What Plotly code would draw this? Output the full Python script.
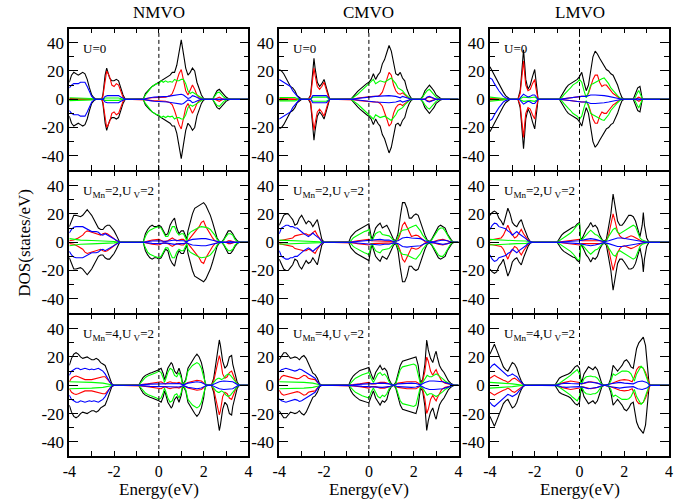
import plotly.graph_objects as go

# ---------------- data: (energy eV, DOS states/eV) spin-up; spin-down drawn mirrored ----------------
materials = ["NMVO", "CMVO", "LMVO"]
u_labels = ["U=0", "U<sub>Mn</sub>=2,U<sub> V</sub>=2", "U<sub>Mn</sub>=4,U<sub> V</sub>=2"]
energy_ticks = [-4, -2, 0, 2, 4]
energy_ticktext = ["-4", "-2", "0", "2", "4"]
energy_minor_ticks = [-3, -1, 1, 3]
dos_ticks = [-40, -20, 0, 20, 40]
dos_ticktext = ["-40", "-20", "0", "20", "40"]
dos_minor_ticks = [-30, -10, 10, 30]

nmvo_u0_black = [(-4,12),(-3.9,17),(-3.8,19),(-3.7,18),(-3.6,17),(-3.5,18),(-3.4,19),(-3.3,18),(-3.2,14),(-3.1,8),(-3.0,3),(-2.9,1),(-2.8,0),(-2.55,0),(-2.5,3),(-2.4,17),(-2.33,22),(-2.2,15),(-2.1,13),(-2.0,13),(-1.9,14),(-1.8,13),(-1.7,8),(-1.6,3),(-1.5,0),(-0.7,0),(-0.6,4),(-0.5,6),(-0.4,7.5),(-0.3,9),(-0.2,10),(-0.1,11),(0,12),(0.1,13),(0.2,14),(0.3,15),(0.4,16),(0.5,17),(0.6,19),(0.7,19),(0.8,24),(0.9,33),(1.0,42),(1.1,32),(1.2,22),(1.3,17),(1.4,19),(1.5,22),(1.6,20),(1.7,12),(1.8,7),(1.9,3),(2.0,0.5),(2.1,0),(2.4,0),(2.5,3),(2.6,6),(2.7,7),(2.8,5),(2.9,3),(3.0,1.5),(3.1,0.5),(3.2,0),(4,0)]
nmvo_u0_red = [(-4,0.5),(-3.2,0.5),(-3.0,0),(-2.55,0),(-2.5,2),(-2.4,14),(-2.33,20),(-2.2,16),(-2.1,10),(-2.0,9),(-1.9,11),(-1.8,10),(-1.7,5),(-1.6,1.5),(-1.5,0),(-0.7,0),(-0.6,0.5),(-0.3,1),(0,1.5),(0.3,1.5),(0.5,2.5),(0.6,4),(0.7,8),(0.8,13),(0.9,18),(1.0,21),(1.1,14),(1.2,6),(1.3,3),(1.4,6),(1.5,10),(1.6,7),(1.7,3),(1.8,1),(1.9,0.3),(2.0,0),(2.5,0),(2.6,1),(2.7,1.5),(2.8,0.5),(2.9,0),(4,0)]
nmvo_u0_green = [(-4,1),(-3.2,1),(-3.0,0.5),(-2.9,0),(-2.5,0),(-2.4,0.8),(-1.8,0.8),(-1.6,0),(-0.7,0),(-0.6,3),(-0.5,5),(-0.4,7),(-0.3,9),(-0.2,10),(-0.1,11),(0,11),(0.1,13),(0.2,12),(0.3,13),(0.4,12),(0.5,12.5),(0.6,12),(0.7,14),(0.8,13),(0.9,13),(1.0,14),(1.1,14),(1.2,11),(1.3,6),(1.4,4),(1.5,5),(1.6,4),(1.7,3),(1.8,2),(1.9,1),(2.0,0),(2.4,0),(2.5,2.5),(2.6,4.5),(2.7,5),(2.8,3),(2.9,1.5),(3.0,0.5),(3.1,0),(4,0)]
nmvo_u0_blue = [(-4,8),(-3.9,10),(-3.8,11),(-3.7,11),(-3.6,11),(-3.5,12),(-3.4,12),(-3.3,12),(-3.2,9),(-3.1,5),(-3.0,2),(-2.9,0.5),(-2.8,0),(-2.5,0),(-2.4,2),(-2.3,2.5),(-2.1,2.5),(-2.0,3),(-1.9,3),(-1.8,2.5),(-1.7,1.5),(-1.6,0.5),(-1.5,0),(-0.7,0),(-0.6,0.5),(-0.4,1),(-0.2,1.5),(0,1.5),(0.2,2),(0.4,2),(0.6,2.5),(0.8,3),(1.0,3.5),(1.1,3),(1.2,2),(1.3,0.5),(1.4,1),(1.5,2.5),(1.6,2),(1.7,1),(1.8,0.5),(1.9,0),(2.5,0),(2.7,0.3),(2.9,0),(4,0)]

cmvo_u0_black = [(-4,21),(-3.9,20),(-3.8,18),(-3.7,15),(-3.6,12),(-3.5,9),(-3.4,8),(-3.3,6),(-3.2,2.5),(-3.1,1),(-3.0,0),(-2.7,0),(-2.6,3),(-2.5,20),(-2.45,29),(-2.4,22),(-2.3,12),(-2.2,9),(-2.1,11),(-2.0,14),(-1.9,8),(-1.8,2),(-1.75,0),(-0.8,0),(-0.7,2),(-0.6,4),(-0.5,5.5),(-0.4,7),(-0.3,8.5),(-0.2,10),(-0.1,11),(0,12),(0.1,14),(0.2,18),(0.3,14),(0.4,17),(0.5,19),(0.6,25),(0.7,28),(0.8,33),(0.9,38),(1.0,34),(1.1,27),(1.2,18),(1.3,17),(1.4,19),(1.5,15),(1.6,13),(1.7,7),(1.8,3),(1.9,0.5),(2.0,0),(2.3,0),(2.4,2),(2.5,6),(2.6,8),(2.7,10),(2.8,8),(2.9,6),(3.0,3),(3.1,1.5),(3.2,0.5),(3.3,0),(4,0)]
cmvo_u0_red = [(-4,0.5),(-3.3,0.5),(-3.1,0),(-2.7,0),(-2.6,2),(-2.5,16),(-2.45,22),(-2.4,17),(-2.3,9),(-2.2,7),(-2.1,9),(-2.0,12),(-1.9,6),(-1.8,1.5),(-1.75,0),(-0.8,0),(-0.6,0.5),(-0.4,1),(-0.2,1.5),(0,1.5),(0.2,2),(0.4,2),(0.5,3),(0.6,5),(0.7,9),(0.8,14),(0.9,19),(1.0,17),(1.1,10),(1.2,6),(1.3,4),(1.4,3.5),(1.5,4.5),(1.6,3),(1.7,1.5),(1.8,0.5),(1.9,0),(2.5,0),(2.6,1),(2.7,1.5),(2.8,1),(2.9,0.5),(3.0,0),(4,0)]
cmvo_u0_green = [(-4,1.2),(-3.3,1.2),(-3.2,0.5),(-3.1,0),(-2.6,0),(-2.5,1.5),(-1.9,1.5),(-1.8,0.5),(-1.75,0),(-0.8,0),(-0.7,1),(-0.6,2),(-0.5,3.5),(-0.4,5),(-0.3,6.5),(-0.2,8),(-0.1,9),(0,11),(0.1,12),(0.2,14),(0.3,11),(0.4,12),(0.5,13),(0.6,12.5),(0.7,12),(0.8,13),(0.9,14),(1.0,15),(1.1,13),(1.2,11),(1.3,8),(1.4,7),(1.5,6),(1.6,4),(1.7,2.5),(1.8,1),(1.9,0.3),(2.0,0),(2.3,0),(2.4,1.5),(2.5,4),(2.6,6),(2.7,7),(2.8,5),(2.9,3),(3.0,1.5),(3.1,0.5),(3.2,0),(4,0)]
cmvo_u0_blue = [(-4,14),(-3.9,13),(-3.8,12),(-3.7,11),(-3.6,10.5),(-3.5,9),(-3.4,6),(-3.3,4),(-3.2,1.5),(-3.1,0.3),(-3.0,0),(-2.6,0),(-2.5,2.5),(-1.9,2.5),(-1.8,1),(-1.75,0),(-0.8,0),(-0.6,0.5),(-0.3,1),(0,1.5),(0.3,2),(0.6,2.5),(0.9,2.5),(1.2,2),(1.4,1),(1.5,2),(1.6,1.5),(1.7,1),(1.8,0.3),(1.9,0),(2.5,0),(2.6,1.5),(2.7,2),(2.8,1.5),(2.9,0.5),(3.0,0),(4,0)]

lmvo_u0_black = [(-4,23),(-3.9,20),(-3.8,16),(-3.7,13),(-3.6,10),(-3.5,7),(-3.4,5),(-3.3,2.5),(-3.2,1),(-3.1,0),(-2.75,0),(-2.65,6),(-2.6,15),(-2.55,30),(-2.5,35),(-2.45,25),(-2.4,14),(-2.3,7),(-2.2,10),(-2.1,16),(-2.0,21),(-1.95,14),(-1.9,5),(-1.85,0),(-0.9,0),(-0.8,3),(-0.7,5),(-0.6,8),(-0.5,10),(-0.4,11),(-0.3,12),(-0.2,13),(-0.1,14),(0,16),(0.1,19),(0.2,12),(0.3,6),(0.4,10),(0.5,20),(0.6,30),(0.7,34),(0.8,32),(0.9,29),(1.0,26),(1.1,23),(1.2,21),(1.3,20),(1.4,18),(1.5,17),(1.6,14),(1.7,10),(1.8,5),(1.9,1),(2.0,0),(2.4,0),(2.5,4),(2.6,8),(2.7,9),(2.75,4),(2.8,0.5),(2.85,0),(4,0)]
lmvo_u0_red = [(-4,0.5),(-3.4,0.5),(-3.3,0),(-2.75,0),(-2.65,4),(-2.6,12),(-2.55,22),(-2.5,27),(-2.45,18),(-2.4,10),(-2.3,6),(-2.2,7),(-2.1,11),(-2.0,14),(-1.95,8),(-1.9,3),(-1.85,0),(-0.9,0),(-0.7,0.5),(-0.4,1),(-0.1,1.5),(0.1,2),(0.3,2),(0.4,4),(0.5,9),(0.6,14),(0.7,17),(0.8,17),(0.9,12),(1.0,9),(1.1,10),(1.2,10),(1.3,8),(1.4,6),(1.5,4),(1.6,3),(1.7,1.5),(1.8,0.5),(1.9,0),(2.5,0),(2.6,1),(2.65,1.5),(2.75,0.5),(2.8,0),(4,0)]
lmvo_u0_green = [(-4,1.5),(-3.8,1.2),(-3.6,1),(-3.4,0.5),(-3.3,0),(-2.7,0),(-2.5,1.5),(-2.2,1),(-2.0,1.5),(-1.9,0.5),(-1.85,0),(-0.9,0),(-0.8,1),(-0.7,3),(-0.6,5),(-0.5,6.5),(-0.4,8),(-0.3,10),(-0.2,11),(-0.1,12),(0,14),(0.1,12),(0.2,6),(0.3,1),(0.4,5),(0.5,10),(0.6,11),(0.7,12),(0.8,13),(0.9,14),(1.0,14.5),(1.1,15),(1.2,13),(1.3,11),(1.4,8),(1.5,6),(1.6,4),(1.7,2.5),(1.8,1),(1.9,0),(2.45,0),(2.5,2),(2.6,5),(2.65,6),(2.7,4),(2.8,0.5),(2.85,0),(4,0)]
lmvo_u0_blue = [(-4,15),(-3.9,14),(-3.8,11),(-3.7,8),(-3.6,6),(-3.5,4),(-3.4,2),(-3.3,1),(-3.2,0.3),(-3.1,0),(-2.7,0),(-2.6,1.5),(-2.5,3.5),(-2.4,2.5),(-2.3,1.5),(-2.2,2),(-2.1,3),(-2.0,3),(-1.9,1),(-1.85,0),(-0.9,0),(-0.7,0.5),(-0.4,1),(-0.1,1.5),(0.1,2),(0.3,2),(0.5,3),(0.7,3),(0.9,3),(1.1,2.5),(1.3,2),(1.5,1.5),(1.7,1),(1.8,0.5),(1.9,0),(2.5,0),(2.6,0.5),(2.7,0),(4,0)]

nmvo_u2_black = [(-4,11),(-3.9,15),(-3.8,19),(-3.7,19),(-3.6,18.5),(-3.5,18),(-3.4,19),(-3.3,21),(-3.2,23),(-3.1,21),(-3.0,19),(-2.9,16),(-2.8,13),(-2.7,10),(-2.6,9),(-2.5,9),(-2.4,11),(-2.3,12),(-2.2,12),(-2.1,10),(-2.0,8),(-1.9,5),(-1.8,1.5),(-1.75,0),(-0.7,0),(-0.6,6),(-0.5,9),(-0.4,11),(-0.3,12),(-0.2,11),(-0.1,11),(0,12),(0.1,11),(0.2,8),(0.3,5),(0.4,6),(0.5,12),(0.6,15),(0.7,17),(0.8,10),(0.9,6),(1.0,8),(1.1,8),(1.2,4),(1.25,2),(1.3,8),(1.4,15),(1.5,20),(1.6,24),(1.7,25),(1.8,26),(1.9,27),(2.0,28),(2.1,26),(2.2,23),(2.3,19),(2.4,14),(2.5,8),(2.6,3),(2.7,0.5),(2.8,0),(2.9,2),(3.0,5),(3.1,8),(3.2,8),(3.3,6),(3.4,3),(3.5,1),(3.6,0),(4,0)]
nmvo_u2_red = [(-4,1),(-3.8,1.5),(-3.6,3),(-3.4,5),(-3.3,7),(-3.2,8),(-3.1,7.5),(-3.0,7),(-2.9,6),(-2.8,5.5),(-2.7,5),(-2.6,5),(-2.5,6),(-2.4,6.5),(-2.3,6),(-2.2,5),(-2.1,4),(-2.0,2.5),(-1.9,1),(-1.8,0.3),(-1.75,0),(-0.7,0),(-0.6,0.5),(-0.5,1),(-0.3,1.5),(0,2),(0.1,1.5),(0.2,0.5),(0.4,1),(0.5,2),(0.6,3),(0.7,2),(0.8,1),(1.0,2),(1.1,2),(1.2,0.5),(1.3,1),(1.4,3),(1.5,5),(1.6,7),(1.7,9),(1.8,11),(1.9,14),(2.0,15),(2.1,11),(2.2,8),(2.3,5),(2.4,3),(2.5,1),(2.6,0.3),(2.7,0),(3.0,0),(3.1,1),(3.2,1),(3.3,0.5),(3.4,0),(4,0)]
nmvo_u2_green = [(-4,2.5),(-3.8,2),(-3.5,1.5),(-3.0,1.2),(-2.5,1),(-2.0,0.5),(-1.8,0),(-0.7,0),(-0.6,4),(-0.5,7),(-0.4,8.5),(-0.3,9.5),(-0.2,10),(-0.1,10.5),(0,11),(0.1,10),(0.2,7),(0.3,4),(0.4,4),(0.5,8),(0.6,11),(0.7,11),(0.8,7),(0.9,5),(1.0,6),(1.1,6),(1.2,3),(1.25,1),(1.3,5),(1.4,7),(1.5,8),(1.6,9),(1.7,10),(1.8,10.5),(1.9,11),(2.0,11),(2.1,10.5),(2.2,10),(2.3,9),(2.4,7),(2.5,5),(2.6,2),(2.7,0.5),(2.8,0),(2.9,1.5),(3.0,4),(3.1,6),(3.2,6),(3.3,5),(3.4,2),(3.5,0.5),(3.6,0),(4,0)]
nmvo_u2_blue = [(-4,6.5),(-3.9,9),(-3.8,10.5),(-3.7,11),(-3.4,11),(-3.3,10),(-3.2,9),(-3.1,8),(-3.0,7.5),(-2.8,7.5),(-2.7,7),(-2.6,5.5),(-2.5,5),(-2.4,6),(-2.3,5),(-2.2,4),(-2.1,3),(-2.0,2),(-1.9,1),(-1.8,0.3),(-1.75,0),(-0.7,0),(-0.6,0.3),(-0.3,0.8),(0,1),(0.3,0.5),(0.5,1),(0.7,1.5),(0.9,1),(1.1,1),(1.25,0.3),(1.3,1),(1.5,2),(1.7,2.5),(1.9,2.5),(2.1,2.5),(2.3,2),(2.5,1),(2.7,0.2),(2.8,0),(3.0,0),(3.2,0.5),(3.4,0),(4,0)]

cmvo_u2_black = [(-4,12),(-3.9,15),(-3.8,19),(-3.7,20),(-3.6,20),(-3.5,18),(-3.4,16),(-3.3,12),(-3.2,13),(-3.1,17),(-3.0,19),(-2.9,16),(-2.8,13),(-2.7,15),(-2.6,14),(-2.5,11),(-2.4,14),(-2.3,16),(-2.2,9),(-2.1,2),(-2.0,0),(-0.9,0),(-0.8,4),(-0.7,6),(-0.6,7.5),(-0.5,8.5),(-0.4,9.5),(-0.3,10),(-0.2,11),(-0.1,12),(0,13),(0.1,4),(0.15,2),(0.2,5),(0.3,10),(0.4,12),(0.5,13.5),(0.6,10),(0.7,11),(0.8,12),(0.9,9),(1.0,6),(1.1,2),(1.2,1),(1.3,6),(1.4,18),(1.5,28),(1.6,28),(1.7,24),(1.8,17),(1.9,17),(2.0,19),(2.1,20),(2.2,19),(2.3,14),(2.4,9),(2.5,5),(2.6,1.5),(2.7,0.5),(2.8,2),(2.9,5),(3.0,9),(3.1,11),(3.2,12),(3.3,11),(3.4,10),(3.5,6),(3.6,3),(3.7,1),(3.8,0),(4,0)]
cmvo_u2_red = [(-4,1),(-3.8,1.5),(-3.6,2),(-3.4,3),(-3.3,4.5),(-3.2,5),(-3.1,5),(-3.0,5.5),(-2.9,6),(-2.8,6),(-2.7,5),(-2.6,5.5),(-2.5,7),(-2.4,8),(-2.3,5),(-2.2,3),(-2.1,0.5),(-2.0,0),(-0.9,0),(-0.7,0.5),(-0.5,1),(-0.3,1.5),(-0.1,2),(0,2),(0.1,1),(0.3,1),(0.5,1),(0.7,1),(0.9,1),(1.1,0.5),(1.2,0.3),(1.3,2),(1.4,6),(1.5,12),(1.6,14),(1.7,11),(1.8,7),(1.9,4),(2.0,4.5),(2.1,5),(2.2,4.5),(2.3,3),(2.4,1.5),(2.5,0.5),(2.6,0),(2.8,0),(2.9,0.5),(3.1,1.5),(3.3,2),(3.5,1),(3.7,0),(4,0)]
cmvo_u2_green = [(-4,1.5),(-3.6,1.2),(-3.2,1),(-2.8,0.8),(-2.4,0.8),(-2.2,0.3),(-2.1,0),(-0.9,0),(-0.8,1),(-0.7,3),(-0.6,4),(-0.5,5),(-0.4,6),(-0.3,7),(-0.2,7.5),(-0.1,8),(0,9),(0.1,2),(0.15,1),(0.2,3),(0.3,6),(0.4,7),(0.5,7.5),(0.6,5.5),(0.7,5),(0.8,5),(0.9,4.5),(1.0,3),(1.1,1),(1.2,0.5),(1.3,4),(1.4,7),(1.5,8.5),(1.6,8.5),(1.7,9),(1.8,10),(1.9,11),(2.0,11.5),(2.1,12),(2.2,10),(2.3,8),(2.4,5),(2.5,3),(2.6,1),(2.7,0.3),(2.8,1.5),(2.9,4),(3.0,7),(3.1,9),(3.2,10),(3.3,10),(3.4,8),(3.5,5),(3.6,2.5),(3.7,0.5),(3.8,0),(4,0)]
cmvo_u2_blue = [(-4,6),(-3.9,10),(-3.8,11),(-3.7,12),(-3.6,12),(-3.5,11),(-3.4,11),(-3.3,10),(-3.2,10),(-3.1,8.5),(-3.0,7.5),(-2.9,6),(-2.8,5),(-2.7,4),(-2.6,5),(-2.5,6.5),(-2.4,5),(-2.3,4),(-2.2,2.5),(-2.1,0.5),(-2.0,0),(-0.9,0),(-0.7,0.3),(-0.3,0.8),(0,1),(0.3,1.5),(0.5,2),(0.7,1.5),(0.9,1.5),(1.1,0.5),(1.3,1),(1.5,3),(1.7,3.5),(1.9,3),(2.1,3),(2.3,2.5),(2.5,1),(2.7,0.2),(2.9,0.3),(3.1,1),(3.3,1.5),(3.5,1),(3.7,0),(4,0)]

lmvo_u2_black = [(-4,19),(-3.9,21),(-3.8,22),(-3.7,21),(-3.6,17),(-3.5,15),(-3.4,12),(-3.3,18),(-3.2,24),(-3.1,20),(-3.0,14),(-2.9,12),(-2.8,11),(-2.7,14),(-2.6,16),(-2.5,11),(-2.4,7),(-2.3,3),(-2.2,0.5),(-2.1,0),(-1.0,0),(-0.9,3),(-0.8,5),(-0.7,6.5),(-0.6,7.5),(-0.5,8.5),(-0.4,10),(-0.3,10.5),(-0.2,11),(-0.1,13),(0,14),(0.05,3),(0.1,2),(0.2,6),(0.3,9),(0.4,11),(0.5,14),(0.6,11),(0.7,12),(0.8,10),(0.9,5),(1.0,2),(1.1,0.5),(1.2,2),(1.3,10),(1.4,20),(1.5,34),(1.6,25),(1.7,15),(1.8,12),(1.9,12),(2.0,14),(2.1,17),(2.2,19),(2.3,19),(2.4,18),(2.5,15),(2.6,10),(2.7,4),(2.8,12),(2.85,21),(2.9,12),(3.0,3),(3.1,0),(4,0)]
lmvo_u2_red = [(-4,1.5),(-3.8,2),(-3.6,2.5),(-3.5,3),(-3.4,5),(-3.3,9),(-3.2,12),(-3.1,8),(-3.0,5),(-2.9,3),(-2.8,4),(-2.7,7),(-2.6,9),(-2.5,6),(-2.4,3.5),(-2.3,1.5),(-2.2,0.3),(-2.1,0),(-1.0,0),(-0.8,0.5),(-0.6,1),(-0.4,1.5),(-0.2,2),(0,2),(0.1,1),(0.3,1),(0.5,1.5),(0.7,1.5),(0.9,1),(1.1,0.3),(1.2,1),(1.3,5),(1.4,13),(1.5,20),(1.6,14),(1.7,7.5),(1.8,4.5),(1.9,3),(2.0,2.5),(2.1,3),(2.2,4),(2.3,4.5),(2.4,4),(2.5,3),(2.6,2),(2.7,1),(2.8,0.5),(2.9,0.3),(3.0,0),(4,0)]
lmvo_u2_green = [(-4,2),(-3.6,1.5),(-3.2,1.2),(-2.8,1),(-2.4,0.8),(-2.2,0.3),(-2.1,0),(-1.0,0),(-0.9,1),(-0.8,2),(-0.7,3),(-0.6,4),(-0.5,5),(-0.4,6.5),(-0.3,8),(-0.2,10),(-0.1,12),(0,13),(0.05,2),(0.1,1.5),(0.2,3.5),(0.3,5),(0.4,7),(0.5,8.5),(0.6,7),(0.7,5.5),(0.8,5),(0.9,3),(1.0,1.5),(1.1,0.3),(1.2,1),(1.3,4),(1.4,7),(1.5,9),(1.6,10),(1.7,7),(1.8,6),(1.9,7),(2.0,8),(2.1,9),(2.2,10),(2.3,11),(2.4,12),(2.5,11),(2.6,7),(2.7,3),(2.8,1.5),(2.9,1),(3.0,0.3),(3.1,0),(4,0)]
lmvo_u2_blue = [(-4,9),(-3.9,12),(-3.8,13.5),(-3.7,13),(-3.6,11),(-3.5,10.5),(-3.4,10),(-3.3,9.5),(-3.2,8),(-3.1,7),(-3.0,5),(-2.9,6.5),(-2.8,7.5),(-2.7,6),(-2.6,5),(-2.5,4),(-2.4,2.5),(-2.3,1),(-2.2,0.3),(-2.1,0),(-1.0,0),(-0.8,0.3),(-0.4,0.8),(0,1),(0.3,2),(0.5,2.5),(0.7,2),(0.9,1),(1.1,0.3),(1.3,1),(1.5,2),(1.7,3),(1.9,3),(2.1,2.5),(2.3,2),(2.5,1.5),(2.7,1),(2.9,0.5),(3.0,0),(4,0)]

nmvo_u4_black = [(-4,14),(-3.9,19),(-3.8,22),(-3.7,23),(-3.6,22),(-3.5,20),(-3.4,19),(-3.3,19.5),(-3.2,20),(-3.1,19),(-3.0,18),(-2.9,18),(-2.8,19),(-2.7,18),(-2.6,16),(-2.5,15),(-2.4,14),(-2.3,10),(-2.2,5),(-2.1,1),(-2.0,0),(-0.9,0),(-0.8,3),(-0.7,5.5),(-0.6,7),(-0.5,8),(-0.4,8.5),(-0.3,9),(-0.2,9.5),(-0.1,10),(0,11),(0.1,12),(0.2,8),(0.25,4),(0.3,6),(0.4,12),(0.5,15),(0.55,16),(0.6,15),(0.7,10),(0.8,8),(0.9,12),(1.0,7),(1.05,2),(1.1,1),(1.2,4),(1.3,12),(1.4,15),(1.5,17),(1.6,20),(1.7,22),(1.8,20),(1.9,16),(2.0,9),(2.05,3),(2.1,0.5),(2.2,0),(2.35,0),(2.45,5),(2.55,15),(2.65,28),(2.7,32),(2.75,28),(2.85,17),(2.95,12),(3.05,14),(3.15,20),(3.25,21),(3.3,15),(3.4,8),(3.5,2),(3.6,0),(4,0)]
nmvo_u4_red = [(-4,2.5),(-3.9,5),(-3.8,6),(-3.7,6.5),(-3.6,6),(-3.5,5.5),(-3.4,5),(-3.3,4),(-3.0,4),(-2.9,4.5),(-2.8,4.5),(-2.7,5),(-2.6,5.5),(-2.5,6),(-2.4,6),(-2.3,4),(-2.2,2),(-2.1,0.5),(-2.0,0),(-0.9,0),(-0.8,0.5),(-0.5,1),(-0.2,1.5),(0,2),(0.1,2.5),(0.2,1.5),(0.3,1),(0.4,2),(0.5,2.5),(0.6,2),(0.8,1.5),(0.9,2),(1.0,1),(1.1,0.3),(1.3,2),(1.5,3),(1.7,3.5),(1.9,3),(2.0,1.5),(2.1,0.3),(2.2,0),(2.35,0),(2.45,3),(2.55,10),(2.65,19),(2.7,21),(2.75,18),(2.85,8),(2.95,5),(3.05,6),(3.15,9),(3.25,10),(3.35,6),(3.45,2),(3.55,0),(4,0)]
nmvo_u4_green = [(-4,2.5),(-3.8,2.5),(-3.5,2),(-3.0,2),(-2.5,1.5),(-2.3,1),(-2.1,0.3),(-2.0,0),(-0.9,0),(-0.8,2),(-0.7,4),(-0.6,5.5),(-0.5,6.5),(-0.4,7),(-0.3,7.5),(-0.2,8),(-0.1,9),(0,10),(0.1,9),(0.2,5),(0.25,2),(0.3,4),(0.4,9),(0.5,12),(0.6,11),(0.7,7),(0.8,6),(0.9,9),(1.0,5),(1.05,1),(1.1,0.5),(1.2,3),(1.3,10),(1.4,12),(1.5,14),(1.6,15),(1.7,16),(1.8,15),(1.9,12),(2.0,6),(2.05,2),(2.1,0.3),(2.2,0),(2.35,0),(2.45,2),(2.55,4),(2.65,5),(2.7,5),(2.8,4),(2.9,5),(3.0,7),(3.1,8),(3.2,7),(3.3,5),(3.4,3),(3.5,1),(3.6,0),(4,0)]
nmvo_u4_blue = [(-4,7),(-3.9,10),(-3.8,11),(-3.7,12),(-3.6,12),(-3.5,11),(-3.4,11.5),(-3.3,12),(-3.2,11.5),(-3.1,11),(-3.0,11.5),(-2.9,11),(-2.8,11.5),(-2.7,12),(-2.6,11),(-2.5,10),(-2.4,8),(-2.3,5),(-2.2,2.5),(-2.1,0.5),(-2.0,0),(-0.9,0),(-0.8,0.3),(-0.4,0.8),(0,1),(0.3,1),(0.5,1.5),(0.7,1.5),(0.9,1.2),(1.1,0.3),(1.3,1.5),(1.5,2),(1.7,2.5),(1.9,2),(2.1,0.3),(2.35,0),(2.5,1),(2.7,2.5),(2.9,3),(3.1,3),(3.3,2.5),(3.5,0.5),(3.6,0),(4,0)]

cmvo_u4_black = [(-4,18),(-3.9,21),(-3.8,23),(-3.7,23),(-3.6,21),(-3.5,19),(-3.4,19.5),(-3.3,20),(-3.2,19.5),(-3.1,18),(-3.0,20),(-2.9,21),(-2.8,19),(-2.7,15),(-2.6,12),(-2.5,8.5),(-2.4,7.5),(-2.3,5),(-2.2,1),(-2.1,0),(-0.9,0),(-0.8,4),(-0.7,6.5),(-0.6,8),(-0.5,9.5),(-0.4,10.5),(-0.3,11),(-0.2,11.5),(-0.1,12),(0,12.5),(0.1,8),(0.2,4),(0.3,9),(0.4,12),(0.5,14),(0.6,11),(0.7,12),(0.8,10),(0.9,4),(1.0,1),(1.1,0),(1.2,2),(1.3,8),(1.4,14),(1.5,17),(1.6,17.5),(1.7,18),(1.8,19),(1.9,19.5),(2.0,20),(2.1,20),(2.2,14),(2.25,5),(2.3,2),(2.4,4),(2.5,15),(2.58,32),(2.65,25),(2.75,19),(2.85,16),(2.95,22),(3.0,24),(3.05,20),(3.15,14),(3.25,11),(3.35,9),(3.45,6),(3.55,3),(3.65,1.5),(3.8,0),(4,0)]
cmvo_u4_red = [(-4,3.5),(-3.9,6),(-3.8,7),(-3.7,6.5),(-3.6,6),(-3.5,5.5),(-3.4,5),(-3.3,4.5),(-3.2,4.5),(-3.1,5),(-3.0,6),(-2.9,7),(-2.8,6.5),(-2.7,5),(-2.6,4.5),(-2.5,4.5),(-2.4,4),(-2.3,2),(-2.2,0.5),(-2.1,0),(-0.9,0),(-0.7,0.5),(-0.4,1),(-0.1,1.5),(0,2),(0.1,1),(0.3,1),(0.5,2),(0.7,2),(0.9,1),(1.1,0),(1.3,1.5),(1.5,2),(1.7,2.5),(2.1,2.5),(2.2,1.5),(2.3,0.5),(2.4,3),(2.5,10),(2.58,20),(2.65,17),(2.75,10),(2.85,7),(2.95,10),(3.0,11),(3.05,9),(3.15,6),(3.25,3),(3.4,1.5),(3.6,0.5),(3.8,0),(4,0)]
cmvo_u4_green = [(-4,2.5),(-3.7,2.5),(-3.3,2),(-2.9,2),(-2.5,1.5),(-2.3,1),(-2.2,0.3),(-2.1,0),(-0.9,0),(-0.8,2),(-0.7,3.5),(-0.6,5),(-0.5,6),(-0.4,7),(-0.3,7.5),(-0.2,8),(-0.1,8.5),(0,9),(0.1,5),(0.2,2),(0.3,5),(0.4,8),(0.5,9),(0.6,7),(0.7,8),(0.8,6),(0.9,2.5),(1.0,0.5),(1.1,0),(1.2,1),(1.3,6),(1.4,11),(1.5,13),(1.6,13.5),(1.7,14),(1.8,14),(1.9,15),(2.0,15),(2.1,14),(2.2,8),(2.25,3),(2.3,1),(2.4,2),(2.5,5),(2.6,7),(2.7,6),(2.8,6),(2.9,7),(3.0,8),(3.1,7),(3.2,6),(3.3,4.5),(3.4,3),(3.5,2),(3.6,1),(3.8,0),(4,0)]
cmvo_u4_blue = [(-4,9.5),(-3.9,11),(-3.8,11.5),(-3.7,12),(-3.6,11.5),(-3.5,11),(-3.4,10.5),(-3.3,10),(-3.2,10.5),(-3.1,11.5),(-3.0,11),(-2.9,10),(-2.8,9.5),(-2.7,8.5),(-2.6,7.5),(-2.5,6.5),(-2.4,5),(-2.3,2.5),(-2.2,0.5),(-2.1,0),(-0.9,0),(-0.7,0.3),(-0.3,0.8),(0,1),(0.3,1.2),(0.6,1.5),(0.9,1),(1.1,0),(1.3,1),(1.6,1.5),(1.9,1.5),(2.1,1.2),(2.3,0.3),(2.5,2),(2.7,3),(2.9,3),(3.1,3),(3.3,2.5),(3.5,1.5),(3.7,0.5),(3.8,0),(4,0)]

lmvo_u4_black = [(-4,22),(-3.9,26),(-3.8,29),(-3.7,25),(-3.6,21),(-3.5,17),(-3.4,13),(-3.3,11),(-3.2,10),(-3.1,13),(-3.0,16),(-2.9,15),(-2.8,12),(-2.7,7),(-2.6,3),(-2.5,0.5),(-2.4,0),(-1.1,0),(-1.0,3),(-0.9,5),(-0.8,6),(-0.7,6.5),(-0.6,7),(-0.5,8),(-0.4,9),(-0.3,11),(-0.2,13),(-0.1,14),(0,12),(0.05,5),(0.1,2),(0.2,8),(0.3,11),(0.4,13),(0.5,12),(0.6,11),(0.7,13),(0.8,11),(0.9,6),(1.0,1),(1.1,0),(1.3,0.5),(1.4,5),(1.5,14),(1.6,12),(1.7,10),(1.8,12),(1.9,14),(2.0,17),(2.1,18),(2.2,16),(2.3,13),(2.4,12),(2.45,16),(2.55,26),(2.65,30),(2.75,32),(2.85,34),(2.95,28),(3.0,20),(3.05,10),(3.1,2),(3.15,0),(4,0)]
lmvo_u4_red = [(-4,5),(-3.9,6),(-3.8,7),(-3.7,6),(-3.6,5),(-3.5,4),(-3.4,3.5),(-3.3,3),(-3.2,2),(-3.1,3),(-3.0,4.5),(-2.9,5),(-2.8,4),(-2.7,3),(-2.6,1.5),(-2.5,0.3),(-2.4,0),(-1.1,0),(-1.0,0.3),(-0.8,1.5),(-0.6,2.5),(-0.4,3),(-0.2,2.5),(0,2),(0.1,1),(0.3,2),(0.5,2.5),(0.7,2),(0.9,1),(1.0,0.3),(1.1,0),(1.4,1),(1.6,2.5),(1.8,3.5),(2.0,4),(2.2,3.5),(2.35,2.5),(2.45,6),(2.55,11),(2.65,13),(2.75,13),(2.85,12),(2.95,9),(3.05,4),(3.1,1),(3.15,0),(4,0)]
lmvo_u4_green = [(-4,2),(-3.8,2),(-3.5,1.5),(-3.0,1),(-2.7,0.5),(-2.5,0),(-1.1,0),(-1.0,0.5),(-0.9,1.5),(-0.8,2.5),(-0.7,3.5),(-0.6,4.5),(-0.5,5.5),(-0.4,7),(-0.3,8.5),(-0.2,10),(-0.1,11),(0,8),(0.05,2),(0.1,1),(0.2,4.5),(0.3,6),(0.4,6.5),(0.5,6.5),(0.6,6),(0.7,6),(0.8,5),(0.9,3),(1.0,0.5),(1.1,0),(1.3,0.3),(1.4,3),(1.5,8),(1.6,7),(1.7,8),(1.8,9.5),(1.9,10),(2.1,10),(2.2,9.5),(2.3,8),(2.4,4),(2.45,3),(2.55,8),(2.65,11),(2.75,13.5),(2.85,12),(2.95,8),(3.05,3),(3.1,0.5),(3.15,0),(4,0)]
lmvo_u4_blue = [(-4,12),(-3.9,14),(-3.8,15),(-3.7,13.5),(-3.6,12),(-3.5,10.5),(-3.4,9),(-3.3,8),(-3.2,6.5),(-3.1,7),(-3.0,8),(-2.9,7),(-2.8,6),(-2.7,4),(-2.6,2),(-2.5,0.5),(-2.4,0),(-1.1,0),(-1.0,0.3),(-0.8,1),(-0.6,1.5),(-0.4,1.2),(-0.2,1),(0,1),(0.2,1.5),(0.4,2.5),(0.6,2),(0.8,1.5),(1.0,0.3),(1.1,0),(1.4,1),(1.6,1.5),(1.8,2),(2.0,1.5),(2.2,1.5),(2.4,1),(2.6,2.5),(2.8,3),(3.0,2),(3.1,0.5),(3.15,0),(4,0)]

panels = [
    [nmvo_u0_black, nmvo_u0_red, nmvo_u0_green, nmvo_u0_blue],
    [cmvo_u0_black, cmvo_u0_red, cmvo_u0_green, cmvo_u0_blue],
    [lmvo_u0_black, lmvo_u0_red, lmvo_u0_green, lmvo_u0_blue],
    [nmvo_u2_black, nmvo_u2_red, nmvo_u2_green, nmvo_u2_blue],
    [cmvo_u2_black, cmvo_u2_red, cmvo_u2_green, cmvo_u2_blue],
    [lmvo_u2_black, lmvo_u2_red, lmvo_u2_green, lmvo_u2_blue],
    [nmvo_u4_black, nmvo_u4_red, nmvo_u4_green, nmvo_u4_blue],
    [cmvo_u4_black, cmvo_u4_red, cmvo_u4_green, cmvo_u4_blue],
    [lmvo_u4_black, lmvo_u4_red, lmvo_u4_green, lmvo_u4_blue],
]
curve_colors = ["#000000", "#ff0000", "#00ff00", "#0000ff"]

# ---------------- layout geometry (page pixels) ----------------
W, H = 696, 499
LW = 1.6                      # frame line width
col_px = [(63.3, 245.3), (276.6, 458.8), (490.7, 672.7)]
row_px = [(28.5, 170.7 - LW / 2), (170.7 + LW / 2, 313.7 - LW / 2), (313.7 + LW / 2, 456.0)]
FONT = "Liberation Serif, Times New Roman, serif"


def fx(px):
    return px / W


def fy(py):
    return 1 - py / H


fig = go.Figure()
layout = dict(
    width=W, height=H, margin=dict(l=0, r=0, t=0, b=0, pad=0),
    paper_bgcolor="white", plot_bgcolor="white", showlegend=False,
    font=dict(family=FONT, size=16, color="black"),
)
shapes, annotations = [], []

for k, curves in enumerate(panels):
    r, c = divmod(k, 3)
    xs = "" if k == 0 else str(k + 1)
    xa, ya = "x" + xs, "y" + xs
    for pts, col in zip(curves, curve_colors):
        ex = [p[0] for p in pts]
        up = [p[1] for p in pts]
        dn = [-p[1] for p in pts]
        for yy in (up, dn):
            fig.add_trace(go.Scatter(x=ex, y=yy, mode="lines", xaxis=xa, yaxis=ya,
                                     line=dict(color=col, width=1.1), hoverinfo="skip"))
    x0, x1 = col_px[c]
    y0, y1 = row_px[r]
    layout["xaxis" + xs] = dict(
        domain=[fx(x0), fx(x1)], anchor=ya, range=[-4, 4],
        tickmode="array", tickvals=energy_ticks, ticktext=energy_ticktext,
        minor=dict(tickvals=energy_minor_ticks, ticks="inside", ticklen=5, tickwidth=1.2, tickcolor="black"),
        showticklabels=(r == 2), ticks="inside", ticklen=5, tickwidth=1.2, tickcolor="black",
        showline=True, linecolor="black", linewidth=LW, mirror="ticks",
        showgrid=False, zeroline=False, tickfont=dict(family=FONT, size=16),
    )
    layout["yaxis" + xs] = dict(
        domain=[fy(y1), fy(y0)], anchor=xa, range=[-50, 50],
        tickmode="array", tickvals=dos_ticks, ticktext=dos_ticktext,
        ticks="inside", ticklen=9, tickwidth=1.2, tickcolor="black",
        minor=dict(tickvals=dos_minor_ticks, ticks="inside", ticklen=5, tickwidth=1.2, tickcolor="black"),
        showline=True, linecolor="black", linewidth=LW, mirror="ticks",
        showgrid=False, zeroline=False, tickfont=dict(family=FONT, size=17),
    )
    shapes.append(dict(type="line", xref=xa, yref=ya + " domain", x0=0, x1=0, y0=0, y1=1,
                       line=dict(color="black", width=1, dash="4px,3px")))
    annotations.append(dict(text=u_labels[r], xref="paper", yref="paper",
                            x=fx(x0 + 12), y=fy(y0 + 20), xanchor="left", yanchor="middle",
                            showarrow=False, font=dict(family=FONT, size=13)))

for c, name in enumerate(materials):
    x0, x1 = col_px[c]
    annotations.append(dict(text=name, xref="paper", yref="paper", x=fx((x0 + x1) / 2), y=fy(12),
                            xanchor="center", yanchor="middle", showarrow=False,
                            font=dict(family=FONT, size=17)))
    annotations.append(dict(text="Energy(eV)", xref="paper", yref="paper", x=fx((x0 + x1) / 2),
                            y=fy(489), xanchor="center", yanchor="middle", showarrow=False,
                            font=dict(family=FONT, size=17)))
annotations.append(dict(text="DOS(states/eV)", xref="paper", yref="paper", x=fx(18), y=fy(243),
                        xanchor="center", yanchor="middle", textangle=-90, showarrow=False,
                        font=dict(family=FONT, size=17)))

layout["shapes"] = shapes
layout["annotations"] = annotations
fig.update_layout(**layout)
# the page's default 8px body margin would push the figure off the 696x499 window
fig.write_html("out.html", config={"displayModeBar": False},
               post_script="document.body.style.margin='0px';")
